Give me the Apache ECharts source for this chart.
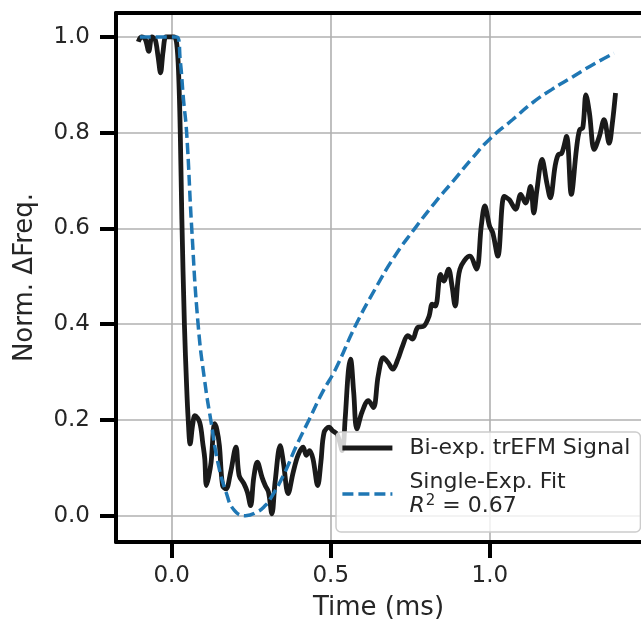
<!DOCTYPE html>
<html>
<head>
<meta charset="utf-8">
<script src="https://cdn.jsdelivr.net/npm/echarts@6/dist/echarts.min.js"></script>
<style>
html,body{margin:0;padding:0;background:#fff;}
#chart{width:641px;height:626px;}
</style>
</head>
<body>
<div id="chart"></div>
<script>
// ---- data ----
const signalName = 'Bi-exp. trEFM Signal';
const fitName = 'Single-Exp. Fit';
const fitR2 = '0.67';
const xTicks = [0, 0.5, 1.0];
const yTicks = [0, 0.2, 0.4, 0.6, 0.8, 1.0];

const signalT = [-0.105,-0.095,-0.083,-0.072,-0.062,-0.052,-0.043,-0.035,-0.027,-0.018,-0.005,0.008,0.016,0.022,0.027,0.032,0.040,0.047,0.052,0.058,0.066,0.073,0.088,0.098,0.104,0.109,0.116,0.124,0.135,0.142,0.150,0.160,0.171,0.185,0.202,0.212,0.227,0.238,0.248,0.258,0.269,0.284,0.294,0.304,0.315,0.325,0.341,0.351,0.366,0.382,0.397,0.413,0.423,0.433,0.444,0.459,0.469,0.479,0.495,0.505,0.520,0.536,0.545,0.555,0.562,0.572,0.582,0.598,0.618,0.634,0.649,0.665,0.680,0.695,0.711,0.726,0.742,0.757,0.773,0.793,0.809,0.819,0.829,0.845,0.855,0.870,0.881,0.891,0.906,0.937,0.958,0.973,0.984,0.999,1.009,1.025,1.045,1.061,1.081,1.097,1.112,1.128,1.138,1.148,1.164,1.179,1.190,1.205,1.215,1.226,1.241,1.256,1.272,1.282,1.292,1.302,1.313,1.328,1.344,1.359,1.375,1.385,1.395];
const signalV = [0.99,1.0,0.995,0.97,1.0,0.995,0.96,0.925,0.97,1.0,1.0,1.0,0.985,0.92,0.80,0.62,0.40,0.27,0.20,0.15,0.19,0.209,0.195,0.15,0.119,0.063,0.08,0.112,0.192,0.18,0.146,0.063,0.056,0.09,0.143,0.084,0.067,0.049,0.021,0.08,0.112,0.08,0.063,0.05,0.004,0.07,0.146,0.112,0.046,0.091,0.126,0.143,0.126,0.136,0.119,0.063,0.112,0.174,0.185,0.178,0.17,0.136,0.2,0.3,0.327,0.258,0.181,0.216,0.24,0.226,0.292,0.33,0.32,0.306,0.327,0.355,0.376,0.369,0.393,0.396,0.417,0.442,0.438,0.504,0.49,0.515,0.48,0.438,0.515,0.542,0.515,0.605,0.647,0.605,0.591,0.542,0.667,0.66,0.64,0.671,0.653,0.688,0.632,0.681,0.744,0.695,0.664,0.73,0.754,0.757,0.792,0.671,0.765,0.806,0.81,0.879,0.841,0.765,0.792,0.827,0.778,0.82,0.883];

const fitT = [-0.1,0.0,0.016,0.027,0.037,0.047,0.063,0.083,0.104,0.124,0.145,0.171,0.197,0.232,0.269,0.294,0.31,0.351,0.392,0.433,0.474,0.515,0.577,0.639,0.701,0.762,0.825,0.886,0.945,1.0,1.071,1.133,1.194,1.256,1.318,1.39];
const fitV = [1.0,1.0,1.0,0.95,0.87,0.80,0.60,0.40,0.28,0.195,0.112,0.049,0.011,0.0,0.008,0.021,0.035,0.084,0.146,0.202,0.258,0.306,0.396,0.473,0.542,0.598,0.652,0.70,0.747,0.787,0.827,0.862,0.89,0.915,0.94,0.966];

const FONT = 'DejaVu Sans';
const signalData = signalT.map((t, i) => [t, signalV[i]]);
const fitData = fitT.map((t, i) => [t, fitV[i]]);

const chart = echarts.init(document.getElementById('chart'), null, {renderer: 'canvas'});
const option = {
  animation: false,
  backgroundColor: '#fff',
  grid: {left: 116, right: -12, top: 13, bottom: 83, containLabel: false},
  xAxis: [{
    type: 'value', min: -0.175, max: 1.475,
    name: 'Time (ms)', nameLocation: 'middle', nameGap: 53,
    nameTextStyle: {fontFamily: FONT, fontSize: 26, color: '#262626'},
    axisLine: {show: true, onZero: false, lineStyle: {color: '#000', width: 4}},
    axisTick: {show: true, length: 16, lineStyle: {color: '#000', width: 4}, customValues: xTicks},
    axisLabel: {fontFamily: FONT, fontSize: 23, color: '#262626', margin: 23, customValues: xTicks,
      formatter: v => v.toFixed(1)},
    splitLine: {show: true, lineStyle: {color: '#b0b0b0', width: 1.6}}
  }, {
    type: 'value', position: 'top', min: -0.175, max: 1.475,
    axisLine: {show: true, onZero: false, lineStyle: {color: '#000', width: 4}},
    axisTick: {show: false}, axisLabel: {show: false}, splitLine: {show: false}
  }],
  yAxis: {
    type: 'value', min: -0.055, max: 1.05,
    name: 'Norm. ΔFreq.', nameLocation: 'middle', nameGap: 78,
    nameTextStyle: {fontFamily: FONT, fontSize: 26, color: '#262626'},
    axisLine: {show: true, onZero: false, lineStyle: {color: '#000', width: 4}},
    axisTick: {show: true, length: 16, lineStyle: {color: '#000', width: 4}, customValues: yTicks},
    axisLabel: {fontFamily: FONT, fontSize: 23, color: '#262626', margin: 26, customValues: yTicks,
      formatter: v => v.toFixed(1)},
    splitLine: {show: true, lineStyle: {color: '#b0b0b0', width: 1.6}}
  },
  legend: {
    orient: 'vertical', left: 336, top: 432,
    padding: [4, 10, 14, 4], itemGap: 10,
    itemWidth: 50, itemHeight: 14,
    backgroundColor: 'rgba(255,255,255,0.8)', borderColor: '#cccccc', borderWidth: 1.5, borderRadius: 5,
    itemStyle: {opacity: 0},
    lineStyle: {width: 'inherit', type: 'inherit'},
    data: [signalName, fitName],
    textStyle: {fontFamily: FONT, fontSize: 22, color: '#262626', padding: [0, 0, 0, 12], lineHeight: 24,
      rich: {
        a: {fontFamily: FONT, fontSize: 22, color: '#262626', lineHeight: 24},
        i: {fontFamily: FONT, fontSize: 22, fontStyle: 'italic', color: '#262626', lineHeight: 24},
        s: {fontFamily: FONT, fontSize: 15, color: '#262626', lineHeight: 24, verticalAlign: 'top', padding: [0, 0, 0, 1]}
      }},
    formatter: name => name === fitName ? '{a|' + fitName + '}\n{i|R}{s|2}{a| = ' + fitR2 + '}' : '{a|' + name + '}'
  },
  series: [{
    name: signalName, type: 'line', data: signalData, showSymbol: false, symbol: 'none',
    smooth: 0.35, lineStyle: {color: '#1a1a1a', width: 4.8}, itemStyle: {color: '#1a1a1a'}, z: 2
  }, {
    name: fitName, type: 'line', data: fitData, showSymbol: false, symbol: 'none',
    smooth: 0.5, lineStyle: {color: '#1f77b4', width: 3.5, type: [11, 5]}, itemStyle: {color: '#1f77b4'}, z: 3
  }]
};
chart.setOption(option);
</script>
</body>
</html>
